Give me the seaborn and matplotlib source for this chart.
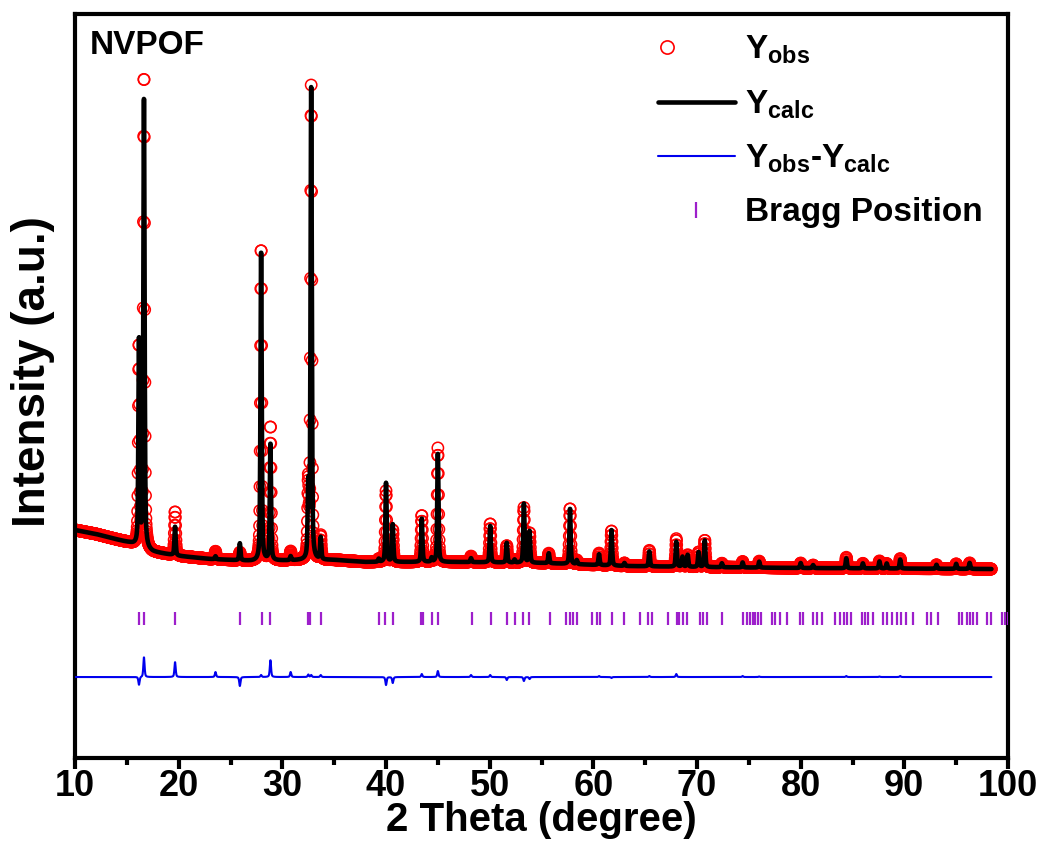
import numpy as np
import pandas as pd
import matplotlib
matplotlib.use("Agg")
import matplotlib.pyplot as plt
import matplotlib.ticker as ticker
from matplotlib.lines import Line2D
from matplotlib.legend_handler import HandlerLine2D
import seaborn as sns

# background level of the pattern (2theta, counts)
bg_theta = [10.0, 12.0, 15.3, 17.5, 20.0, 23.0, 27.0, 35.0, 38.0, 47.0, 55.0, 63.0, 70.0, 80.0, 98.4]
bg_counts = [1800, 1720, 1540, 1360, 1280, 1220, 1180, 1200, 1160, 1160, 1140, 1080, 1060, 1040, 1020]

peak_pos = [16.17, 16.65, 19.65, 23.55, 25.9, 27.95, 28.85, 30.8, 32.5, 32.78,
            33.7, 39.3, 40.0, 40.65, 43.45, 44.4, 45.0, 48.2, 50.05, 51.65,
            52.4, 53.3, 53.85, 55.7, 57.75, 58.4, 60.55, 61.75, 63.0, 65.4,
            68.0, 68.6, 69.1, 70.15, 70.75, 72.4, 74.4, 76.0, 80.0, 81.2,
            84.4, 86.0, 87.6, 88.3, 89.6, 93.1, 95.0, 96.3]
calc_height = [4160, 9100, 580, 60, 340, 6260, 2360, 80, 1400, 9420,
               440, 60, 1580, 760, 880, 80, 2160, 80, 740, 400,
               60, 1180, 640, 200, 1120, 80, 220, 720, 60, 300,
               500, 200, 240, 300, 540, 80, 100, 120, 100, 60,
               200, 100, 140, 100, 180, 80, 100, 120]
obs_height = [4000, 9500, 880, 160, 160, 6300, 2700, 180, 1450, 9460,
              480, 60, 1420, 640, 940, 80, 2280, 120, 780, 340,
              60, 1100, 600, 200, 1120, 80, 240, 700, 60, 320,
              560, 200, 240, 300, 540, 80, 120, 130, 100, 60,
              220, 100, 150, 100, 200, 80, 100, 120]

# Bragg reflection markers
bragg_pos = [16.17, 16.65, 19.64, 25.9, 28.0, 28.8, 32.5, 32.7, 33.7, 39.3, 39.9, 40.7,
             43.4, 43.6, 44.4, 45.0, 48.3, 50.1, 51.7, 52.4, 53.2, 53.8, 55.8,
             57.4, 57.7, 58.0, 58.4, 59.9, 60.4, 60.6, 61.8, 63.0, 64.5, 65.3, 65.7,
             67.2, 68.1, 68.3, 68.6, 69.0, 70.3, 70.6, 71.0, 72.4,
             74.4, 74.8, 75.1, 75.4, 75.6, 75.9, 76.2, 77.2, 77.5, 78.0, 78.7,
             79.9, 80.2, 81.2, 81.6, 82.1, 83.3, 83.8, 84.2, 84.5, 84.9,
             85.9, 86.2, 86.5, 87.0, 87.9, 88.3, 88.8, 89.3, 89.7, 90.2, 90.8,
             92.2, 92.6, 93.2, 95.3, 95.6, 96.0, 96.3, 96.6, 97.0, 98.0, 98.4,
             99.4, 99.7, 100.0]

FWHM = 0.14
ETA = 0.5
DIFF_OFFSET = -1140


def profile(x, centers, heights):
    out = np.zeros_like(x)
    for c, h in zip(centers, heights):
        d = (x - c) / FWHM
        out += h * (ETA / (1 + 4 * d ** 2) + (1 - ETA) * np.exp(-4 * np.log(2) * d ** 2))
    return out


class LeftMarkerHandler(HandlerLine2D):
    # symbol sits near the left end of the handle, like in the original legend
    def get_xdata(self, legend, xdescent, ydescent, width, height, fontsize):
        xdata = np.array([-xdescent, -xdescent + 0.24 * width])
        return xdata, xdata


two_theta = np.round(np.arange(10.0, 98.41, 0.02), 2)
background = np.interp(two_theta, bg_theta, bg_counts)
y_calc = background + profile(two_theta, peak_pos, calc_height)
y_obs = background + profile(two_theta, peak_pos, obs_height)

df = pd.DataFrame({"two_theta": two_theta,
                   "y_obs": y_obs,
                   "y_calc": y_calc,
                   "y_diff": y_obs - y_calc + DIFF_OFFSET})

sns.set_theme(style="white")
plt.rcParams["font.family"] = ["Liberation Sans", "DejaVu Sans"]
plt.rcParams["font.weight"] = "bold"
plt.rcParams["text.color"] = "black"
plt.rcParams["axes.labelcolor"] = "black"
plt.rcParams["xtick.color"] = "black"
plt.rcParams["mathtext.fontset"] = "custom"
plt.rcParams["mathtext.rm"] = "Liberation Sans:bold"
plt.rcParams["mathtext.bf"] = "Liberation Sans:bold"
plt.rcParams["mathtext.it"] = "Liberation Sans:bold"

fig = plt.figure(figsize=(10.45, 8.43), dpi=100)
ax = fig.add_axes([0.0718, 0.1008, 0.8928, 0.8826])

sns.scatterplot(data=df, x="two_theta", y="y_obs", ax=ax, marker="o", s=66,
                facecolors="none", edgecolor="#ff0000", linewidth=1.1, zorder=2)
sns.lineplot(data=df, x="two_theta", y="y_calc", ax=ax, color="black", lw=3.3,
             estimator=None, sort=False, zorder=3)
sns.lineplot(data=df, x="two_theta", y="y_diff", ax=ax, color="#0000ee", lw=1.5,
             estimator=None, sort=False, zorder=3)
ax.vlines(bragg_pos, -100, 160, color="#9d1fcb", lw=1.6, zorder=3)

ax.set_xlim(10, 100)
ax.set_ylim(-2760, 12120)
ax.xaxis.set_major_locator(ticker.MultipleLocator(10))
ax.xaxis.set_minor_locator(ticker.MultipleLocator(5))
ax.set_yticks([])
ax.tick_params(axis="x", which="major", direction="out", length=8, width=3,
               labelsize=26, pad=0, bottom=True)
ax.tick_params(axis="x", which="minor", direction="out", length=5, width=3, bottom=True)
for lab in ax.get_xticklabels():
    lab.set_fontweight("bold")
for sp in ax.spines.values():
    sp.set_linewidth(3)
    sp.set_color("black")

ax.set_xlabel("2 Theta (degree)", fontsize=29, fontweight="bold")
ax.xaxis.set_label_coords(0.5, -0.058)
ax.set_ylabel("Intensity (a.u.)", fontsize=33, fontweight="bold")
ax.yaxis.set_label_coords(-0.022, 0.52)
ax.text(0.016, 0.979, "NVPOF", transform=ax.transAxes, fontsize=24,
        fontweight="bold", va="top", ha="left")

handles = [Line2D([], [], ls="none", marker="o", mfc="none", mec="#ff0000", ms=9.5, mew=1.2),
           Line2D([], [], color="black", lw=3.3),
           Line2D([], [], color="#0000ee", lw=1.5),
           Line2D([], [], ls="none", marker="|", color="#9d1fcb", ms=12, mew=1.6)]
labels = [r"$\mathbf{Y_{obs}}$", r"$\mathbf{Y_{calc}}$",
          r"$\mathbf{Y_{obs}}$-$\mathbf{Y_{calc}}$", "Bragg Position"]
ax.legend(handles, labels, loc="upper right", bbox_to_anchor=(0.994, 1.0),
          frameon=False, fontsize=24, handlelength=2.3, handletextpad=0.3,
          labelspacing=0.66, borderaxespad=0.2,
          handler_map={handles[0]: LeftMarkerHandler()})

fig.savefig("out.png", dpi=100)
